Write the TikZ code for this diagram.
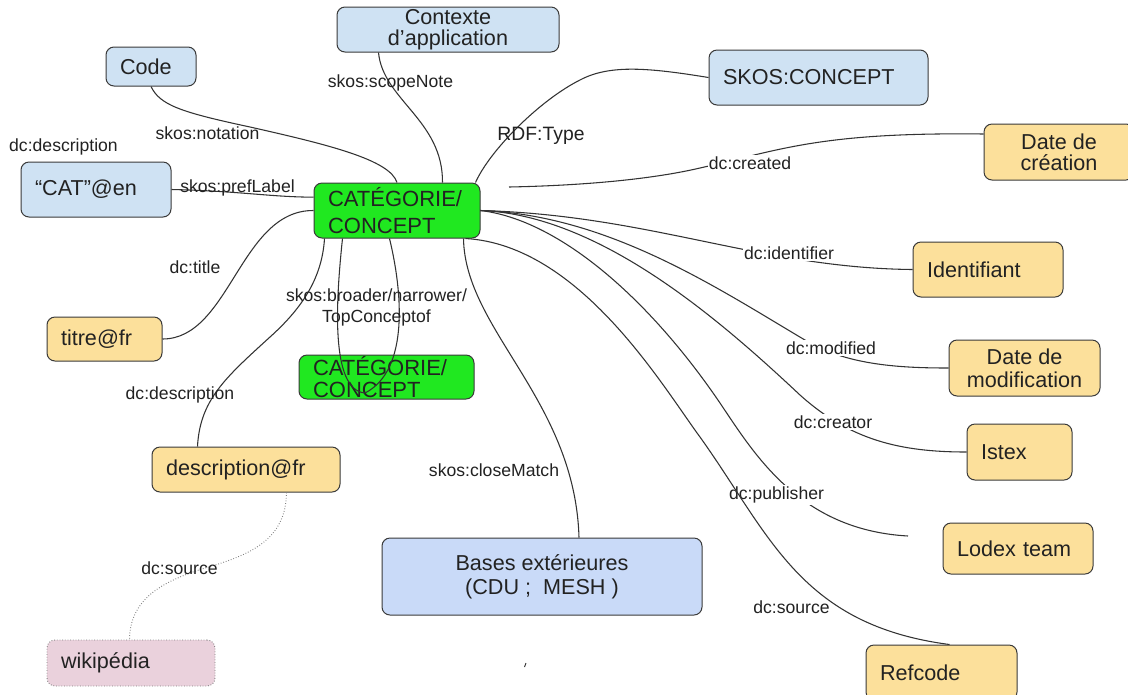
\documentclass[tikz,border=0pt]{standalone}
\usepackage{fontspec}
\setmainfont{Liberation Sans}
\definecolor{blu}{HTML}{CFE2F3}
\definecolor{blu2}{HTML}{C9DAF8}
\definecolor{yel}{HTML}{FCE09B}
\definecolor{grn}{RGB}{32,232,32}
\definecolor{pnk}{HTML}{EAD1DC}
\definecolor{bcol}{HTML}{3A3A3A}
\definecolor{ecol}{HTML}{333333}
\definecolor{tcol}{HTML}{222222}
\newcommand\nfont{\fontsize{16.2pt}{16pt}\selectfont}
\newcommand\lfont{\fontsize{13.2pt}{15.75pt}\selectfont}
\newcommand\rfont{\fontsize{14.5pt}{16pt}\selectfont}
\begin{document}
\begin{tikzpicture}[x=0.75pt,y=-0.75pt,
  box/.style={draw=bcol, line width=0.75pt, rounded corners=6pt, inner ysep=0pt, font=\nfont, text=tcol},
  lbox/.style={box, align=left, inner xsep=10.5pt},
  cbox/.style={box, align=center, inner xsep=0pt},
  edge/.style={draw=ecol, line width=0.8pt},
  dotline/.style={draw=gray, line width=0.7pt, dash pattern=on 0.6pt off 1.4pt},
  lab/.style={font=\lfont, inner sep=1pt, text=tcol},
  wlab/.style={lab, fill=white}]
\useasboundingbox (0,0) rectangle (1128,694);
\clip (0,0) rectangle (1128,694);
\fill[white] (0,0) rectangle (1128,694);

% nodes
\node[cbox, fill=blu, minimum width=166.5pt, minimum height=33.75pt, font=\fontsize{16.2pt}{15.75pt}\selectfont] (ctx) at (448,29.5) {Contexte\\d’application};
\node[lbox, fill=blu, text width=46.5pt, minimum height=29.25pt] (code) at (151,66.5) {Code};
\node[lbox, fill=blu, text width=143.25pt, minimum height=41.25pt] (skos) at (818.5,77.5) {SKOS:CONCEPT};
\node[cbox, fill=yel, minimum width=112.5pt, minimum height=42pt, font=\fontsize{16.2pt}{15.75pt}\selectfont] (crea) at (1059,152) {Date de\\création};
\node[lbox, fill=blu, text width=91.5pt, minimum height=41.25pt] (cat) at (96,189.5) {“CAT”@en};
\node[lbox, fill=grn, text width=103.5pt, minimum height=41.25pt, font=\fontsize{16.5pt}{20.25pt}\selectfont] (main) at (397,210.5) {CATÉGORIE/\\CONCEPT};
\node[lbox, fill=yel, text width=91.5pt, minimum height=41.25pt] (ident) at (988,269.5) {Identifiant};
\node[lbox, fill=yel, text width=65.25pt, minimum height=33pt] (titre) at (104.5,339) {titre@fr};
\node[cbox, fill=yel, minimum width=113.25pt, minimum height=42pt, font=\fontsize{16.2pt}{17.25pt}\selectfont] (mod) at (1024.5,368) {Date de\\modification};
\node[lbox, fill=grn, text width=110.25pt, minimum height=33pt, font=\fontsize{16.5pt}{16.5pt}\selectfont] (cat2) at (386.5,377) {CATÉGORIE/\\CONCEPT};
\node[lbox, fill=yel, text width=57.75pt, minimum height=42pt] (istex) at (1019.5,452) {Istex};
\node[lbox, fill=yel, text width=120pt, minimum height=33.75pt] (desc) at (246,469.5) {description@fr};
\node[lbox, fill=yel, text width=91.5pt, minimum height=38.25pt] (lodex) at (1018,548.5) {Lodex team};
\node[cbox, fill=blu2, minimum width=240pt, minimum height=57.75pt, font=\fontsize{16.2pt}{18pt}\selectfont] (bases) at (542,576.5) {Bases extérieures\\(CDU ;\ \ MESH )};
\node[lbox, fill=pnk, draw=gray, dotline, line width=0.7pt, text width=105pt, minimum height=34.5pt] (wiki) at (131,663) {wikipédia};
\node[lbox, fill=yel, text width=92.25pt, minimum height=41.25pt] (ref) at (941.5,672.5) {Refcode};

\coordinate (creaend) at (509,187);
\coordinate (loopend) at (365,393);
\coordinate (lodexend) at (908,536);

% edges
\draw[edge] (code.south) .. controls (160,105) and (180,112) .. (250,127) .. controls (330,145) and (390,160) .. (main.north);
\draw[edge] ([xshift=31.5pt]ctx.south west) .. controls (383,100) and (443,120) .. ([xshift=96.75pt]main.north west);
\draw[edge] (skos.west) .. controls (650,68) and (610,64) .. (580,80) .. controls (540,100) and (490,150) .. ([xshift=-3.75pt]main.north east);
\draw[edge] ([yshift=13.5pt]crea.west) .. controls (820,132) and (780,150) .. (700,168) .. controls (640,182) and (560,186) .. (creaend);
\draw[edge] (cat.east) .. controls (240,191) and (270,197) .. ([yshift=10pt]main.west);
\draw[edge] (main.west) .. controls (240,210) and (230,339) .. (titre.east);
\draw[edge] ([xshift=8.25pt]main.south west) .. controls (322,280) and (300,310) .. (270,337) .. controls (225,378) and (200,400) .. ([xshift=34.5pt]desc.north west);
\draw[edge] ([xshift=21.75pt]main.south west) .. controls (336,300) and (330,390) .. (loopend);
\draw[edge] ([xshift=57pt]main.south west) .. controls (402,290) and (410,370) .. (loopend);
\draw[edge] ([xshift=-12.75pt]main.south east) .. controls (465,330) and (575,400) .. ([xshift=27.75pt]bases.north);
\draw[edge] (main.east) .. controls (560,220) and (650,300) .. (720,403) .. controls (755,455) and (800,530) .. (lodexend);
\draw[edge] (main.east) .. controls (600,215) and (720,320) .. (800,395) .. controls (850,440) and (900,452) .. (istex.west);
\draw[edge] (main.east) .. controls (610,215) and (720,290) .. (810,343) .. controls (850,365) and (900,368) .. (mod.west);
\draw[edge] (main.east) .. controls (650,215) and (760,268) .. (ident.west);
\draw[dotline] ([xshift=-40.5pt]desc.south east) .. controls (286,540) and (250,555) .. (205,568) .. controls (160,582) and (130,600) .. ([xshift=62.25pt]wiki.north west);

% labels
\node[lab] (lscope) at (390.5,83) {skos:scopeNote};
\node[lab] (lnot) at (207.5,133) {skos:notation};
\node[lab, font=\rfont] (lrdf) at (541,136) {RDF:Type};
\node[lab] (ldesc1) at (63.5,147) {dc:description};
\node[wlab] (lcrea) at (750,163) {dc:created};
\node[lab] (lpref) at (237.5,188) {skos:prefLabel};
\node[lab] (ltitle) at (195,267) {dc:title};
\node[wlab] (lident) at (789,253) {dc:identifier};
\node[lab, align=center] (lbroad) at (376.5,307.5) {skos:broader/narrower/\\TopConceptof};
\node[wlab] (lmod) at (831,348) {dc:modified};
\node[lab] (ldesc2) at (180,395) {dc:description};
\node[wlab] (lcreator) at (833,422) {dc:creator};
\node[lab] (lclose) at (494,470) {skos:closeMatch};
\node[wlab] (lpub) at (776.5,495) {dc:publisher};
\node[lab] (lsrc1) at (179.5,568) {dc:source};
\node[wlab] (lsrc2) at (791.5,607) {dc:source};

\draw[edge] ([xshift=-11.25pt]main.south east) .. controls (580,245) and (663,387) .. (700,437) .. controls (770,535) and (800,625) .. ([xshift=63pt]ref.north west);

\coordinate (tickA) at (524.5,667);
\coordinate (tickB) at (526,663);
\draw[ecol, line width=0.7pt] (tickA) -- (tickB);
\end{tikzpicture}
\end{document}
